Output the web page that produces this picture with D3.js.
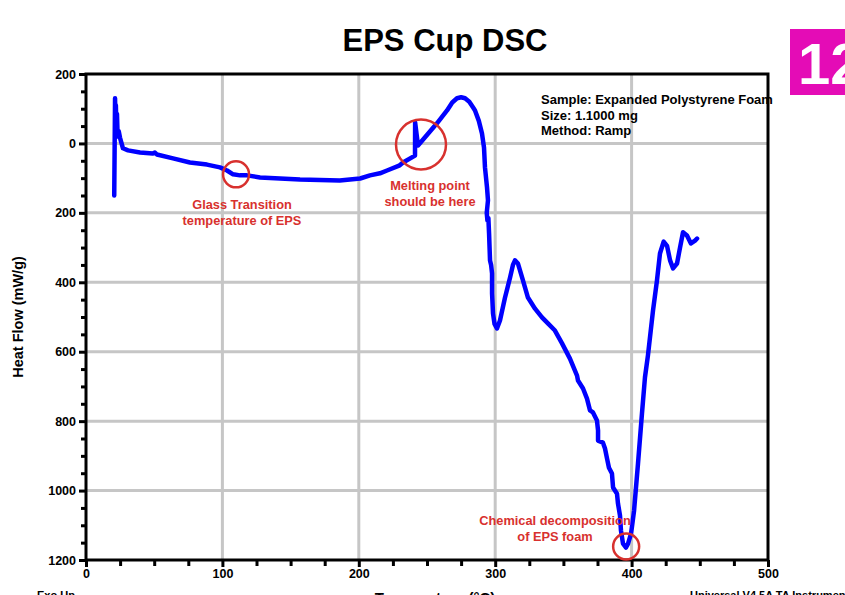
<!DOCTYPE html>
<html>
<head>
<meta charset="utf-8">
<script src="https://cdn.jsdelivr.net/npm/d3@7"></script>
<style>
  html, body { margin: 0; padding: 0; background: #fff; }
  svg { display: block; font-family: "Liberation Sans", Arial, sans-serif; }
</style>
</head>
<body>
<svg id="chart" width="845" height="595"></svg>
<script>
// DSC trace: temperature (°C) and heat flow (mW/g, exo up)
const temperature = [20.7, 21.3, 21.6, 21.9, 22.3, 22.7, 23.2, 24.0, 24.9, 27.1, 30.8, 39.6, 49.0, 50.5, 52.0,
  63.8, 76.2, 88.7, 98.2, 103.4, 107.8, 112.9, 118.0, 127.6, 156.9, 186.0, 201.0, 208.2, 215.5, 220.7,
  230.0, 232.4, 241.2, 241.3, 243.4, 257.3, 264.7, 268.5, 272.0, 275.0, 277.9, 281.0, 283.7, 285.2,
  288.0, 290.3, 291.8, 292.5, 294.0, 294.7, 293.8, 294.3, 295.0, 295.5, 296.2, 297.0, 297.7, 297.7,
  298.4, 299.5, 301.3, 303.5, 307.2, 310.9, 313.0, 314.5, 316.7, 320.4, 324.0, 329.2, 334.3, 339.0,
  343.8, 349.0, 354.8, 360.0, 360.7, 364.4, 367.3, 368.0, 369.5, 371.7, 374.6, 375.4, 375.4, 379.0,
  380.5, 382.0, 383.4, 385.6, 386.4, 389.3, 390.0, 391.5, 392.2, 393.7, 395.9, 397.4, 399.6, 401.8,
  404.7, 407.6, 409.8, 412.0, 415.7, 418.6, 420.8, 423.5, 426.0, 428.2, 430.4, 433.3, 435.5, 437.7,
  440.6, 443.5, 446.5, 448.0];
const heatFlow = [-150, 130, 60, 110, 40, 85, 20, 35, 17, -14, -20, -26, -29, -26, -32,
  -43, -55, -61, -69, -78, -89, -92, -92, -98, -104, -107, -101, -92, -86, -78,
  -63, -55, -35, 60, -6, 58, 95, 118, 130, 133, 130, 120, 104, 95,
  65, 29, -12, -69, -127, -164, -200, -222, -215, -259, -337, -350, -375, -432,
  -490, -520, -533, -510, -444, -386, -350, -337, -346, -395, -444, -476, -501, -520,
  -539, -576, -620, -669, -683, -706, -735, -746, -769, -775, -798, -827, -856, -862,
  -879, -908, -934, -951, -991, -1009, -1037, -1072, -1115, -1153, -1164, -1153, -1124, -1058,
  -922, -778, -674, -610, -481, -395, -317, -283, -295, -337, -360, -346, -300, -256,
  -265, -288, -280, -274];

const xTicks = [0, 100, 200, 300, 400, 500];
const yTicks = [200, 0, -200, -400, -600, -800, -1000, -1200];
const yTickLabels = ["200", "0", "200", "400", "600", "800", "1000", "1200"];

const sampleInfo = ["Sample: Expanded Polystyrene Foam", "Size:  1.1000 mg", "Method: Ramp"];

// annotations: marker circle centre (°C, mW/g), radius, label anchor and lines
const notes = [
  { t: 110, v: -89, r: 13, lx: 242, ly: 209, lines: ["Glass Transition", "temperature of EPS"] },
  { t: 245.6, v: -3, r: 25, lx: 430, ly: 190, lines: ["Melting point", "should be here"] },
  { t: 396, v: -1161, r: 13, lx: 555, ly: 525, lines: ["Chemical decomposition", "of EPS foam"] }
];

const svg = d3.select("#chart");
const x = d3.scaleLinear().domain([0, 500]).range([86, 768]);
const y = d3.scaleLinear().domain([-1200, 200]).range([560, 74]);

const grey = "#c6c6c6";
// grid
svg.append("g").selectAll("line").data([100, 200, 300, 400]).join("line")
  .attr("x1", d => x(d)).attr("x2", d => x(d)).attr("y1", y(200)).attr("y2", y(-1200))
  .attr("stroke", grey).attr("stroke-width", 3);
svg.append("g").selectAll("line").data([0, -200, -400, -600, -800, -1000]).join("line")
  .attr("x1", x(0)).attr("x2", x(500)).attr("y1", d => y(d)).attr("y2", d => y(d))
  .attr("stroke", grey).attr("stroke-width", 3);

// minor ticks
const yMinor = d3.range(-1200, 201, 50).filter(v => v % 200 !== 0);
const xMinor = d3.range(0, 501, 25).filter(v => v % 100 !== 0);
svg.append("g").attr("transform", `translate(${x(0)},0)`)
  .call(d3.axisLeft(y).tickValues(yMinor).tickSize(5).tickFormat(""))
  .call(g => g.select(".domain").remove())
  .call(g => g.selectAll("line").attr("stroke-width", 3));
svg.append("g").attr("transform", `translate(0,${y(-1200)})`)
  .call(d3.axisBottom(x).tickValues(xMinor).tickSize(6).tickFormat(""))
  .call(g => g.select(".domain").remove())
  .call(g => g.selectAll("line").attr("stroke-width", 3));

// major axes
const fontFam = "Liberation Sans, Arial, sans-serif";
svg.append("g").attr("transform", `translate(${x(0)},0)`)
  .call(d3.axisLeft(y).tickValues(yTicks).tickSize(7).tickPadding(3)
    .tickFormat((d, i) => yTickLabels[i]))
  .call(g => g.select(".domain").remove())
  .call(g => g.selectAll("line").attr("stroke-width", 3))
  .call(g => g.selectAll("text").attr("font-size", 12.5).attr("font-weight", "bold")
    .attr("fill", "#000").attr("font-family", fontFam));
svg.append("g").attr("transform", `translate(0,${y(-1200)})`)
  .call(d3.axisBottom(x).tickValues(xTicks).tickSize(7).tickPadding(2))
  .call(g => g.select(".domain").remove())
  .call(g => g.selectAll("line").attr("stroke-width", 3))
  .call(g => g.selectAll("text").attr("font-size", 12.5).attr("font-weight", "bold")
    .attr("fill", "#000").attr("font-family", fontFam));

// frame
svg.append("rect").attr("x", x(0)).attr("y", y(200))
  .attr("width", x(500) - x(0)).attr("height", y(-1200) - y(200))
  .attr("fill", "none").attr("stroke", "#000").attr("stroke-width", 3);

// trace
const pts = temperature.map((t, i) => [t, heatFlow[i]]);
svg.append("path").datum(pts)
  .attr("d", d3.line().x(d => x(d[0])).y(d => y(d[1])))
  .attr("fill", "none").attr("stroke", "#0000ff").attr("stroke-width", 4.5)
  .attr("stroke-linejoin", "round").attr("stroke-linecap", "round");

// annotations
const red = "#d8312e";
notes.forEach(n => {
  svg.append("circle").attr("cx", x(n.t)).attr("cy", y(n.v)).attr("r", n.r)
    .attr("fill", "none").attr("stroke", red).attr("stroke-width", 2.5);
  n.lines.forEach((s, i) => svg.append("text")
    .attr("x", n.lx).attr("y", n.ly + i * 15.5).attr("text-anchor", "middle")
    .attr("font-size", 12.8).attr("font-weight", "bold").attr("fill", red).text(s));
});

// sample info
sampleInfo.forEach((s, i) => svg.append("text")
  .attr("x", 541).attr("y", 104 + i * 15.5).attr("font-size", 13)
  .attr("font-weight", "bold").attr("fill", "#000").text(s));

// title
svg.append("text").attr("x", 445).attr("y", 51).attr("text-anchor", "middle")
  .attr("font-size", 31).attr("font-weight", "bold").text("EPS Cup DSC");

// y-axis title
svg.append("text").attr("transform", "translate(23,317) rotate(-90)")
  .attr("text-anchor", "middle").attr("font-size", 14.5).attr("font-weight", "bold")
  .text("Heat Flow (mW/g)");

// footer texts
svg.append("text").attr("x", 37).attr("y", 599).attr("font-size", 11)
  .attr("font-weight", "bold").text("Exo Up");
svg.append("text").attr("x", 435).attr("y", 603).attr("text-anchor", "middle")
  .attr("font-size", 15).attr("font-weight", "bold").text("Temperature (°C)");
svg.append("text").attr("x", 690).attr("y", 599).attr("font-size", 11)
  .attr("font-weight", "bold").text("Universal V4.5A TA Instruments");

// page badge
svg.append("rect").attr("x", 790).attr("y", 29).attr("width", 70).attr("height", 66)
  .attr("fill", "#e40cb6");
svg.append("text").attr("x", 798).attr("y", 84).attr("font-size", 58)
  .attr("font-weight", "bold").attr("fill", "#fff").text("12");
</script>
</body>
</html>
